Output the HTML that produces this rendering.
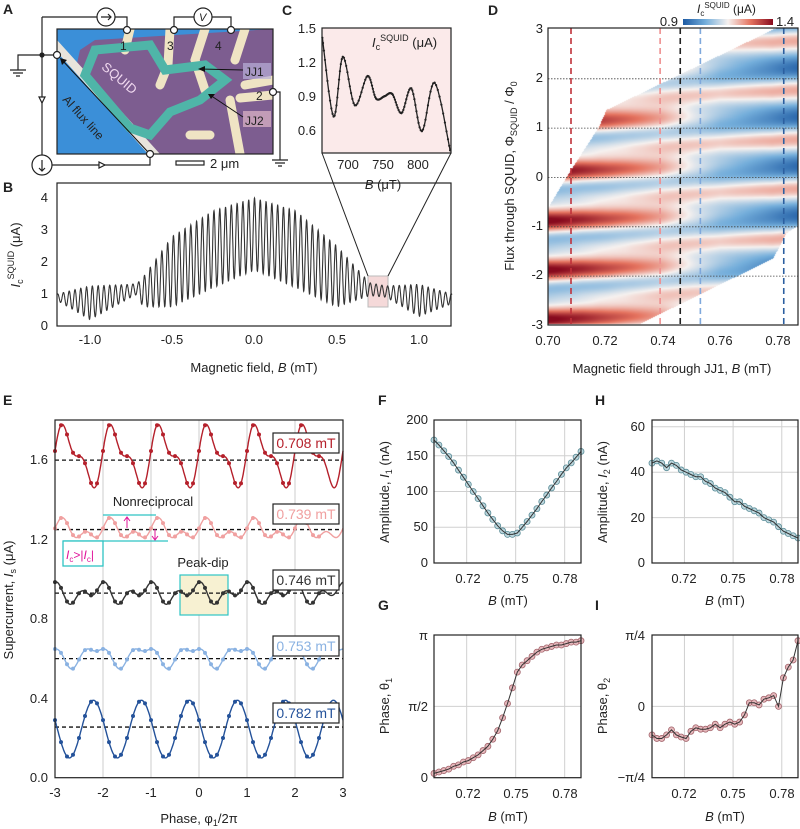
<!DOCTYPE html>
<html><head><meta charset="utf-8"><style>
body{margin:0;background:#fff;}
#wrap{position:relative;width:800px;height:829px;overflow:hidden;font-family:"Liberation Sans",sans-serif;}
svg{position:absolute;left:0;top:0;}
svg text{font-family:"Liberation Sans",sans-serif;fill:#222;}
#heat{position:absolute;left:548px;top:28px;}
</style></head><body>
<div id="wrap">
<canvas id="heat" width="250" height="297"></canvas>
<svg id="s" width="800" height="829">
<defs>
<linearGradient id="cb" x1="0" x2="1"><stop offset="0" stop-color="#1d5aa3"/><stop offset="0.25" stop-color="#74aedb"/><stop offset="0.5" stop-color="#f6f1ef"/><stop offset="0.75" stop-color="#e5735f"/><stop offset="1" stop-color="#870a1e"/></linearGradient>
<clipPath id="clipA"><rect x="57" y="29" width="216" height="125"/></clipPath>
</defs>
<g font-weight="bold" font-size="14">
<text x="3" y="14">A</text><text x="3" y="192">B</text><text x="282" y="15">C</text><text x="488" y="15">D</text>
<text x="3" y="405">E</text><text x="378" y="405">F</text><text x="595" y="405">H</text><text x="378" y="610">G</text><text x="595" y="610">I</text>
</g>
<g clip-path="url(#clipA)">
<rect x="57" y="29" width="216" height="125" fill="#3b8fd8"/>
<polygon points="95,40 273,29 273,154 158,154 75,72 80,50" fill="#7d5d90"/>
<polygon points="57,40 160,154 148,154 57,52" fill="#e8e4dc"/>
<g stroke="#efe4c4" stroke-width="9" fill="none" stroke-linecap="round">
<path d="M130,29 L125,50"/><path d="M170,29 L168,65 L160,85"/><path d="M205,29 L195,60 L205,90"/>
<path d="M245,29 L235,60"/><path d="M273,95 L240,98"/><path d="M273,80 L245,85"/><path d="M190,135 L210,135"/><path d="M230,100 L240,154"/>
</g>
<path d="M95,50 L150,45 L165,70 L205,65 L225,80 L200,100 L170,112 L150,135 L130,128 L85,75 Z" fill="none" stroke="#4fb5a8" stroke-width="9"/>
<text x="98" y="76" transform="rotate(40 110 76)" font-size="13" style="fill:#f1d9f0">SQUID</text>
<text x="62" y="100" transform="rotate(48 62 100)" font-size="12">Al flux line</text>
<rect x="243" y="63" width="28" height="16" fill="#b9b0d8" opacity="0.7"/>
<rect x="243" y="111" width="28" height="16" fill="#e0b8c8" opacity="0.7"/>
</g>
<g font-size="12">
<text x="245" y="76">JJ1</text><text x="245" y="125">JJ2</text>
<text x="120" y="50">1</text><text x="167" y="50">3</text><text x="215" y="50">4</text><text x="256" y="100">2</text>
<line x1="243" y1="70" x2="200" y2="69" stroke="#111"/><polygon points="198,69 205,66 205,72" fill="#111"/>
<line x1="243" y1="117" x2="210" y2="95" stroke="#111"/><polygon points="208,94 215,94 211,99" fill="#111"/>
<line x1="148" y1="152" x2="62" y2="60" stroke="#111"/><polygon points="60,58 67,60 62,65" fill="#111"/>
</g>
<g stroke="#222" fill="none" stroke-width="1.2">
<rect x="57" y="29" width="216" height="125"/>
<path d="M42,17 L97,17 M115,17 L127,17 L127,30 M174,30 L174,17 L194,17 M212,17 L231,17 L231,30"/>
<path d="M42,17 L42,155 M52,165 L150,165 L150,154"/>
<path d="M42,55 L57,55 M42,55 L18,55 L18,70 M10,70 L26,70 M13,73 L23,73 M16,76 L20,76"/>
<path d="M273,92 L280,92 L280,160 M272,160 L288,160 M275,163 L285,163 M278,166 L282,166"/>
<circle cx="106" cy="17" r="9" fill="#fff"/><circle cx="203" cy="17" r="9" fill="#fff"/><circle cx="42" cy="165" r="10" fill="#fff"/>
<path d="M101,17 L111,17 M108,14 L111,17 L108,20 M42,160 L42,171 M39,168 L42,171 L45,168"/>
<g fill="#fff"><circle cx="127" cy="30" r="3.5"/><circle cx="174" cy="30" r="3.5"/><circle cx="231" cy="30" r="3.5"/><circle cx="57" cy="55" r="3.5"/><circle cx="150" cy="154" r="3.5"/><circle cx="273" cy="92" r="3.5"/></g>
<circle cx="42" cy="55" r="2" fill="#222"/>
<path d="M39,97 L45,97 L42,103 Z M99,162 L99,168 L105,165 Z" fill="#fff"/>
<rect x="176" y="161" width="28" height="4"/>
</g>
<text x="199" y="21" font-size="11" font-style="italic">V</text>
<text x="210" y="168" font-size="13">2 μm</text>

<g>
<rect x="368" y="276" width="20" height="31" fill="#f5d9d9" stroke="#bbb"/>
<path d="M368,276 L322,153 M388,276 L451,153" stroke="#222" fill="none"/>
<g id="gB"></g>
<rect x="57" y="183" width="394" height="143" fill="none" stroke="#222" stroke-width="1.2"/>
<g font-size="13" text-anchor="end">
<text x="48" y="330">0</text><text x="48" y="298">1</text><text x="48" y="266">2</text><text x="48" y="234">3</text><text x="48" y="202">4</text></g>
<g font-size="13" text-anchor="middle">
<text x="90" y="344">-1.0</text><text x="172" y="344">-0.5</text><text x="254" y="344">0.0</text><text x="337" y="344">0.5</text><text x="419" y="344">1.0</text></g>
<text x="254" y="372" font-size="13" text-anchor="middle">Magnetic field, <tspan font-style="italic">B</tspan> (mT)</text>
<text transform="translate(20,255) rotate(-90)" font-size="13" text-anchor="middle"><tspan font-style="italic">I</tspan><tspan font-size="9" dy="3">c</tspan><tspan font-size="9" dy="-9">SQUID</tspan><tspan dy="6"> (μA)</tspan></text>
</g>

<g>
<rect x="322" y="28" width="129" height="125" fill="#fbeaea" stroke="#222" stroke-width="1.2"/>
<g id="gC"></g>
<g font-size="13" text-anchor="end">
<text x="316" y="33">1.5</text><text x="316" y="67">1.2</text><text x="316" y="101">0.9</text><text x="316" y="135">0.6</text></g>
<g font-size="13" text-anchor="middle">
<text x="348" y="169">700</text><text x="383" y="169">750</text><text x="418" y="169">800</text></g>
<text x="383" y="189" font-size="13" text-anchor="middle"><tspan font-style="italic">B</tspan> (μT)</text>
<text x="372" y="47" font-size="13"><tspan font-style="italic">I</tspan><tspan font-size="9" dy="3">c</tspan><tspan font-size="9" dy="-9">SQUID</tspan><tspan dy="6"> (μA)</tspan></text>
</g>

<g>
<g id="gD"></g>
<rect x="548" y="28" width="250" height="297" fill="none" stroke="#222" stroke-width="1.2"/>
<rect x="683" y="19" width="90" height="6" fill="url(#cb)"/>
<text x="678" y="26" font-size="13" text-anchor="end">0.9</text>
<text x="776" y="26" font-size="13">1.4</text>
<text x="697" y="13" font-size="12"><tspan font-style="italic">I</tspan><tspan font-size="8" dy="3">c</tspan><tspan font-size="8" dy="-8">SQUID</tspan><tspan dy="5"> (μA)</tspan></text>
<g font-size="13" text-anchor="end">
<text x="543" y="33">3</text><text x="543" y="82">2</text><text x="543" y="131">1</text><text x="543" y="181">0</text><text x="543" y="230">-1</text><text x="543" y="279">-2</text><text x="543" y="329">-3</text></g>
<g font-size="13" text-anchor="middle">
<text x="548" y="345">0.70</text><text x="605" y="345">0.72</text><text x="663" y="345">0.74</text><text x="720" y="345">0.76</text><text x="778" y="345">0.78</text></g>
<text x="672" y="373" font-size="13" text-anchor="middle">Magnetic field through JJ1, <tspan font-style="italic">B</tspan> (mT)</text>
<text transform="translate(514,176) rotate(-90)" font-size="13" text-anchor="middle">Flux through SQUID, Φ<tspan font-size="9" dy="3">SQUID</tspan><tspan dy="-3"> / Φ</tspan><tspan font-size="9" dy="3">0</tspan></text>
</g>

<g>
<g id="gEgrid"></g>
<rect x="180" y="575" width="48" height="40" fill="#f7f1d2" stroke="#2ec4c4" stroke-width="1.2"/>
<g id="gE"></g>
<rect x="55" y="420" width="288" height="357.7" fill="none" stroke="#222" stroke-width="1.2"/>
<g font-size="13" text-anchor="end">
<text x="48" y="782">0.0</text><text x="48" y="703">0.4</text><text x="48" y="623">0.8</text><text x="48" y="544">1.2</text><text x="48" y="464">1.6</text></g>
<g font-size="13" text-anchor="middle">
<text x="55" y="797">-3</text><text x="103" y="797">-2</text><text x="151" y="797">-1</text><text x="199" y="797">0</text><text x="247" y="797">1</text><text x="295" y="797">2</text><text x="343" y="797">3</text></g>
<text x="199" y="823" font-size="13" text-anchor="middle">Phase, φ<tspan font-size="9" dy="3">1</tspan><tspan dy="-3">/2π</tspan></text>
<text transform="translate(13,600) rotate(-90)" font-size="13" text-anchor="middle">Supercurrent, <tspan font-style="italic">I</tspan><tspan font-size="9" dy="3">s</tspan><tspan dy="-3"> (μA)</tspan></text>
<text x="153" y="506" font-size="13" text-anchor="middle">Nonreciprocal</text>
<text x="203" y="567" font-size="13" text-anchor="middle">Peak-dip</text>
<path d="M103,515 L156,515 M63,541 L168,541" stroke="#2ec4c4" stroke-width="1.3"/>
<path d="M127,528 L127,518 M124,521 L127,517 L130,521 M155,529 L155,539 M152,536 L155,540 L158,536" stroke="#e0149a" fill="none"/>
<rect x="63" y="541" width="40" height="25" fill="#fff" stroke="#2ec4c4" stroke-width="1.3"/>
<text x="66" y="559" font-size="12" style="fill:#e0149a"><tspan font-style="italic">I</tspan><tspan font-size="8" dy="3">c</tspan><tspan dy="-3">&gt;|</tspan><tspan font-style="italic">I</tspan><tspan font-size="8" dy="3">c</tspan><tspan dy="-3">|</tspan></text>
<g id="gElab"></g>
</g>

<g>
<g id="gF"></g>
<rect x="434" y="420" width="147" height="143" fill="none" stroke="#222" stroke-width="1.2"/>
<g font-size="13" text-anchor="end">
<text x="428" y="424">200</text><text x="428" y="460">150</text><text x="428" y="495">100</text><text x="428" y="531">50</text><text x="428" y="567">0</text></g>
<g font-size="13" text-anchor="middle"><text x="468" y="583">0.72</text><text x="516" y="583">0.75</text><text x="565" y="583">0.78</text></g>
<text x="508" y="605" font-size="13" text-anchor="middle"><tspan font-style="italic">B</tspan> (mT)</text>
<text transform="translate(389,492) rotate(-90)" font-size="13" text-anchor="middle">Amplitude, <tspan font-style="italic">I</tspan><tspan font-size="9" dy="3">1</tspan><tspan dy="-3"> (nA)</tspan></text>
</g>
<g>
<g id="gH"></g>
<rect x="652" y="420" width="146" height="143" fill="none" stroke="#222" stroke-width="1.2"/>
<g font-size="13" text-anchor="end">
<text x="645" y="431">60</text><text x="645" y="476">40</text><text x="645" y="522">20</text><text x="645" y="567">0</text></g>
<g font-size="13" text-anchor="middle"><text x="684" y="583">0.72</text><text x="733" y="583">0.75</text><text x="782" y="583">0.78</text></g>
<text x="725" y="605" font-size="13" text-anchor="middle"><tspan font-style="italic">B</tspan> (mT)</text>
<text transform="translate(607,492) rotate(-90)" font-size="13" text-anchor="middle">Amplitude, <tspan font-style="italic">I</tspan><tspan font-size="9" dy="3">2</tspan><tspan dy="-3"> (nA)</tspan></text>
</g>
<g>
<g id="gG"></g>
<rect x="434" y="635" width="147" height="142.7" fill="none" stroke="#222" stroke-width="1.2"/>
<g font-size="13" text-anchor="end">
<text x="428" y="640">π</text><text x="428" y="711">π/2</text><text x="428" y="782">0</text></g>
<g font-size="13" text-anchor="middle"><text x="468" y="798">0.72</text><text x="516" y="798">0.75</text><text x="565" y="798">0.78</text></g>
<text x="508" y="821" font-size="13" text-anchor="middle"><tspan font-style="italic">B</tspan> (mT)</text>
<text transform="translate(389,706) rotate(-90)" font-size="13" text-anchor="middle">Phase, θ<tspan font-size="9" dy="3">1</tspan></text>
</g>
<g>
<g id="gI"></g>
<rect x="652" y="635" width="146" height="142.7" fill="none" stroke="#222" stroke-width="1.2"/>
<g font-size="13" text-anchor="end">
<text x="645" y="640">π/4</text><text x="645" y="711">0</text><text x="645" y="782">−π/4</text></g>
<g font-size="13" text-anchor="middle"><text x="684" y="798">0.72</text><text x="733" y="798">0.75</text><text x="782" y="798">0.78</text></g>
<text x="725" y="821" font-size="13" text-anchor="middle"><tspan font-style="italic">B</tspan> (mT)</text>
<text transform="translate(607,706) rotate(-90)" font-size="13" text-anchor="middle">Phase, θ<tspan font-size="9" dy="3">2</tspan></text>
</g>
</svg>
</div>
<script>
const bEnvB = [-1.2,-1.0,-0.75,-0.71,-0.68,-0.5,-0.25,0,0.25,0.5,0.7,0.8,1.0,1.2];
const bEnvUpper = [1.0,1.25,1.3,1.35,1.5,2.8,3.6,4.0,3.6,2.5,1.35,1.25,1.3,1.0];
const bEnvLower = [0.8,0.2,0.9,1.0,0.6,0.6,1.2,1.75,1.2,0.6,0.95,0.9,0.3,0.7];
const bPeriod = [0.0352];
const cB = [664,680,693,710,728,740,752,763,776,790,805,823,845];
const cI = [1.42,0.72,1.25,0.82,1.08,0.88,0.9,0.92,0.75,0.97,0.59,1.02,0.42];
const fgB = [0.700,0.703,0.706,0.709,0.712,0.715,0.718,0.721,0.724,0.727,0.730,0.733,0.736,0.739,0.742,0.745,0.748,0.751,0.754,0.757,0.760,0.763,0.766,0.769,0.772,0.775,0.778,0.781,0.784,0.787,0.790];
const amp1 = [172,165,157,149,140,130,120,110,100,90,80,70,61,52,45,40,40,42,50,58,67,76,86,95,105,114,124,133,140,148,156];
const amp2 = [44,45,44,42,44,43,41,40,39,38,38,36,35,33,32,31,29,27,27,25,24,23,22,20,19,18,16,14,13,12,11];
const theta1 = [0.03,0.04,0.05,0.06,0.08,0.09,0.11,0.12,0.14,0.16,0.19,0.22,0.27,0.33,0.42,0.52,0.63,0.74,0.79,0.82,0.85,0.88,0.90,0.91,0.92,0.93,0.93,0.94,0.95,0.95,0.96];
const theta2 = [-0.40,-0.45,-0.45,-0.40,-0.33,-0.40,-0.43,-0.45,-0.35,-0.30,-0.32,-0.32,-0.30,-0.25,-0.30,-0.25,-0.22,-0.25,-0.22,-0.12,0.05,0.05,0.02,0.10,0.12,0.15,0.00,0.40,0.55,0.65,0.92];
const dMeanB = [0.70,0.74,0.76,0.79];
const dMean = [1.2,1.17,1.1,1.06];
const dPhi0 = [-0.9,-0.85,-0.8,-0.75];
const dLineB = [0.708,0.739,0.746,0.753,0.782];
const dLineColors = ['#c0313a','#ee8f8f','#222','#7fa8dc','#2c5fa0'];
const dPolyB = [0.700,0.700,0.7067,0.7178,0.7204,0.7795,0.790,0.790,0.783,0.7784,0.732];
const dPolyPhi = [-3,-0.65,0,1.0,1.34,3,3,-0.9,-1.16,-1.67,-3];
const dGridPhi = [2,1,0,-1,-2];
const eLabels = ['0.708 mT','0.739 mT','0.746 mT','0.753 mT','0.782 mT'];
const eBase = [1.6,1.25,0.93,0.6,0.255];
const eMean = [1.62,1.245,0.93,0.615,0.245];
const eA1 = [0.123,0.035,0.032,0.045,0.145];
const eX1 = [-0.017,-0.1,-0.33,-0.4,-0.45];
const eA2 = [0.0615,0.03,0.032,0.022,0.0];
const eX2 = [-0.017,0.025,-0.08,-0.025,0];
const eColors = ['#b5202b','#f0a0a0','#333','#8ab2e2','#24529a'];
const eLabelY = [433,504,570,636,703];

const NS='http://www.w3.org/2000/svg';
function el(tag,parent){const e=document.createElementNS(NS,tag);document.getElementById(parent).appendChild(e);return e;}
function interp(xs,ys,x){if(x<=xs[0])return ys[0];for(let i=1;i<xs.length;i++){if(x<=xs[i]){const t=(x-xs[i-1])/(xs[i]-xs[i-1]);return ys[i-1]+t*(ys[i]-ys[i-1]);}}return ys[ys.length-1];}

const bx=b=>254.5+b*164.5, by=v=>326-v*32;
{let d='';for(let b=-1.2;b<=1.2001;b+=0.001){const u=interp(bEnvB,bEnvUpper,b),l=interp(bEnvB,bEnvLower,b);const v=l+(u-l)*(0.5+0.5*Math.cos(2*Math.PI*b/bPeriod[0]));d+=(d?'L':'M')+bx(b).toFixed(1)+','+by(v).toFixed(1);}
const p=el('path','gB');p.setAttribute('d',d);p.setAttribute('fill','none');p.setAttribute('stroke','#333');p.setAttribute('stroke-width','1.1');

}

const cx=b=>322+(b-663.5)*0.706, cy=v=>28.7+(1.5-v)*112.6;
{const pts=[];for(let i=0;i<cB.length-1;i++){const p0=i>0?i-1:i,p3=i+2<cB.length?i+2:i+1;for(let t=0;t<1;t+=0.1){const c=(a)=>{const P0=a[p0],P1=a[i],P2=a[i+1],P3=a[p3];return 0.5*((2*P1)+(-P0+P2)*t+(2*P0-5*P1+4*P2-P3)*t*t+(-P0+3*P1-3*P2+P3)*t*t*t);};pts.push([c(cB),c(cI)]);}}pts.push([cB[cB.length-1],cI[cI.length-1]]);
let d='';pts.forEach(q=>{d+=(d?'L':'M')+cx(q[0]).toFixed(1)+','+cy(q[1]).toFixed(1);});
const p=el('path','gC');p.setAttribute('d',d);p.setAttribute('fill','none');p.setAttribute('stroke','#222');p.setAttribute('stroke-width','1.3');


pts.forEach(q=>{const c=el('circle','gC');c.setAttribute('cx',cx(q[0]));c.setAttribute('cy',cy(q[1]));c.setAttribute('r','1.1');c.setAttribute('fill','#222');

});}

const dx=b=>548+(b-0.70)*2875, dy=f=>28+(3-f)*49.33;
{const cv=document.getElementById('heat'),ctx=cv.getContext('2d');const img=ctx.createImageData(250,297);
const poly=dPolyB.map((b,i)=>[dx(b)-548,dy(dPolyPhi[i])-28]);
function inside(x,y){let c=false;for(let i=0,j=poly.length-1;i<poly.length;j=i++){const a=poly[i],b=poly[j];if((a[1]>y)!=(b[1]>y)&&x<(b[0]-a[0])*(y-a[1])/(b[1]-a[1])+a[0])c=!c;}return c;}
const stops=[[0,[29,90,163]],[0.25,[116,174,219]],[0.5,[246,241,239]],[0.75,[229,115,95]],[1,[135,10,30]]];
function cmap(t){t=Math.max(0,Math.min(1,t));for(let i=1;i<stops.length;i++){if(t<=stops[i][0]){const u=(t-stops[i-1][0])/(stops[i][0]-stops[i-1][0]);return stops[i-1][1].map((c,k)=>c+u*(stops[i][1][k]-c));}}return stops[4][1];}
for(let py=0;py<297;py++){const phi=3-(py+0.5)/49.33;for(let px=0;px<250;px++){if(!inside(px+0.5,py+0.5))continue;const B=0.70+(px+0.5)/2875;
const m=interp(dMeanB,dMean,B),p0=interp(dMeanB,dPhi0,B),a1=interp(fgB,amp1,B)/1000,a2=interp(fgB,amp2,B)/1000,t1=interp(fgB,theta1,B)*Math.PI,t2=interp(fgB,theta2,B)*Math.PI/4;
const v=m+a1*Math.cos(2*Math.PI*(phi-p0)-t1)+a2*Math.cos(4*Math.PI*(phi-p0)-t2);const c=cmap((v-0.9)/0.5);const k=(py*250+px)*4;img.data[k]=c[0];img.data[k+1]=c[1];img.data[k+2]=c[2];img.data[k+3]=255;}}
ctx.putImageData(img,0,0);
dGridPhi.forEach(f=>{const l=el('line','gD');l.setAttribute('x1',548);l.setAttribute('x2',798);l.setAttribute('y1',dy(f-0.03));l.setAttribute('y2',dy(f-0.03));l.setAttribute('stroke','#444');l.setAttribute('stroke-width','0.8');l.setAttribute('stroke-dasharray','1.5,1.5');

});
dLineB.forEach((b,i)=>{const l=el('line','gD');l.setAttribute('x1',dx(b));l.setAttribute('x2',dx(b));l.setAttribute('y1',28);l.setAttribute('y2',325);l.setAttribute('stroke',dLineColors[i]);l.setAttribute('stroke-width','1.6');l.setAttribute('stroke-dasharray','6,4');

});}

const ex=x=>199+x*48, ey=v=>777.7-v*198.5;
[-2,-1,0,1,2].forEach(x=>{const l=el('line','gEgrid');l.setAttribute('x1',ex(x));l.setAttribute('x2',ex(x));l.setAttribute('y1',420);l.setAttribute('y2',777);l.setAttribute('stroke','#ccc');

});
eBase.forEach((base,i)=>{const f=x=>eMean[i]+eA1[i]*Math.sin(2*Math.PI*(x-eX1[i]))+eA2[i]*Math.sin(4*Math.PI*(x-eX2[i]));
const bl=el('line','gE');bl.setAttribute('x1',55);bl.setAttribute('x2',343);bl.setAttribute('y1',ey(base));bl.setAttribute('y2',ey(base));bl.setAttribute('stroke','#111');bl.setAttribute('stroke-width','1.3');bl.setAttribute('stroke-dasharray','4,3');


let d='';for(let x=-3;x<=3.0001;x+=0.01)d+=(d?'L':'M')+ex(x).toFixed(1)+','+ey(f(x)).toFixed(1);
const p=el('path','gE');p.setAttribute('d',d);p.setAttribute('fill','none');p.setAttribute('stroke',eColors[i]);p.setAttribute('stroke-width','1.4');


for(let x=-3;x<=2.6;x+=0.125){const c=el('circle','gE');c.setAttribute('cx',ex(x));c.setAttribute('cy',ey(f(x)));c.setAttribute('r','2');c.setAttribute('fill',eColors[i]);

}
const r=el('rect','gElab');r.setAttribute('x',273);r.setAttribute('y',eLabelY[i]);r.setAttribute('width',66);r.setAttribute('height',20);r.setAttribute('fill','#fff');r.setAttribute('stroke','#222');r.setAttribute('stroke-width','1.2');


const t=el('text','gElab');t.setAttribute('x',306);t.setAttribute('y',eLabelY[i]+15);t.setAttribute('text-anchor','middle');t.setAttribute('font-size','14');t.setAttribute('style','fill:'+eColors[i]);t.textContent=eLabels[i];

});

function small(g,x0,x1,y0,y1,vmin,vmax,vals,fill,stroke,gridVals){
const sx=b=>x0+(b-0.70)/0.09*(x1-x0), sy=v=>y1-(v-vmin)/(vmax-vmin)*(y1-y0);
[0.72,0.75,0.78].forEach(b=>{const l=el('line',g);l.setAttribute('x1',sx(b));l.setAttribute('x2',sx(b));l.setAttribute('y1',y0);l.setAttribute('y2',y1);l.setAttribute('stroke','#d0d0d0');

});
gridVals.forEach(v=>{const l=el('line',g);l.setAttribute('x1',x0);l.setAttribute('x2',x1);l.setAttribute('y1',sy(v));l.setAttribute('y2',sy(v));l.setAttribute('stroke','#d0d0d0');

});
let d='';fgB.forEach((b,i)=>{d+=(d?'L':'M')+sx(b).toFixed(1)+','+sy(vals[i]).toFixed(1);});
fgB.forEach((b,i)=>{const c=el('circle',g);c.setAttribute('cx',sx(b));c.setAttribute('cy',sy(vals[i]));c.setAttribute('r','3');c.setAttribute('fill',fill);c.setAttribute('stroke',stroke);c.setAttribute('stroke-width','0.8');

});
const p=el('path',g);p.setAttribute('d',d);p.setAttribute('fill','none');p.setAttribute('stroke','#333');p.setAttribute('stroke-width','1');

}
small('gF',434,581,420,563,0,200,amp1,'#bcd6dd','#5b8d98',[50,100,150]);
small('gH',652,798,420,563,0,63,amp2,'#bcd6dd','#5b8d98',[20,40,60]);
small('gG',434,581,635,777.7,0,1,theta1,'#e6b8bc','#a3656c',[0.5]);
small('gI',652,798,635,777.7,-1,1,theta2,'#e6b8bc','#a3656c',[0]);
</script>
</body></html>
